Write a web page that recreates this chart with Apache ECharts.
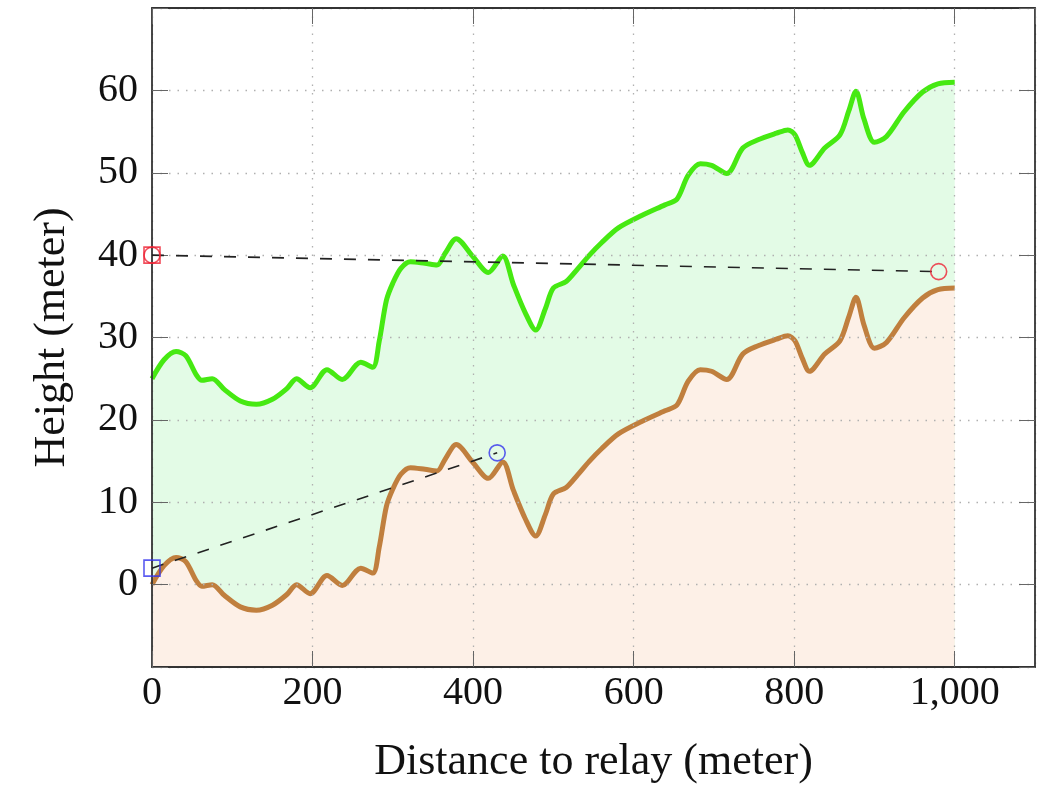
<!DOCTYPE html>
<html><head><meta charset="utf-8">
<script src="https://cdn.jsdelivr.net/npm/echarts@6/dist/echarts.min.js"></script>
<style>html,body{margin:0;padding:0;background:#fff}#c{width:1045px;height:785px}</style>
</head><body><div id="c"></div>
<script>
const distances = [0,15,30,42,55,62,75,90,110,130,150,168,180,197,218,237,260,275,283,292,300,310,322,340,355,365,379,400,419,437,450,465,478,490,500,516,530,545,560,581,610,639,654,668,683,697,716,736,755,778,792,801,810,819,838,857,868,877,887,900,915,937,960,979,1000];
const terrain = [0,2.3,3.3,2.8,0.5,-0.2,0,-1.3,-2.7,-3.1,-2.5,-1.2,0,-1.1,1.1,-0.1,2.0,1.4,4.5,9.5,11.6,13.4,14.2,14.0,13.8,15.2,17,14.8,12.9,14.9,11.5,8,5.9,8.5,11.0,11.8,13.3,15.0,16.5,18.3,19.8,21.1,21.8,24.7,26.1,25.9,24.9,28.0,29.0,29.8,30.2,29.6,27.5,25.9,28.0,29.6,32.5,34.9,31.5,28.7,29.4,32.4,34.8,35.8,36.0];
const clearance = [25,27.3,28.3,27.8,25.5,24.8,25,23.7,22.3,21.9,22.5,23.8,25,23.9,26.1,24.9,27,26.4,29.5,34.5,36.6,38.4,39.2,39,38.8,40.2,42,39.8,37.9,39.9,36.5,33,30.9,33.5,36,36.8,38.3,40,41.5,43.3,44.8,46.1,46.8,49.7,51.1,50.9,49.9,53,54,54.8,55.2,54.6,52.5,50.9,53,54.6,57.5,59.9,56.5,53.7,54.4,57.4,59.8,60.8,61];
const redLinkX = [0, 980];
const redLinkY = [40, 38];
const blueLinkX = [0, 430];
const blueLinkY = [2, 16];
const xTicks = [0,200,400,600,800,1000];
const yTicks = [0,10,20,30,40,50,60];

const pair = (xs, ys) => xs.map((x,i)=>[x, ys[i]]);
const FONT = 'Liberation Serif';
const chart = echarts.init(document.getElementById('c'), null, {renderer:'canvas'});
const gridLine = {show:true, lineStyle:{color:'#b0b0b0', width:1.3, type:[1.5,7]}};
const baseTick = {show:true, inside:true, length:16, lineStyle:{color:'#666', width:1}};
const frame = {show:true, onZero:false, lineStyle:{color:'#333', width:1.8}};
chart.setOption({
  animation:false,
  grid:{left:152, right:10, top:8, bottom:118, show:false, containLabel:false, outerBoundsMode:'none'},
  xAxis:[{
    type:'value', min:0, max:1100, interval:200, z:10,
    axisLine:frame,
    axisTick:baseTick,
    splitLine:gridLine,
    axisLabel:{fontFamily:FONT, fontSize:40, color:'#111', margin:6, showMaxLabel:false,
      formatter:v => xTicks.includes(v) ? v.toLocaleString('en-US') : ''},
    name:'Distance to relay (meter)', nameLocation:'middle', nameGap:73,
    nameTextStyle:{fontFamily:FONT, fontSize:44, color:'#111'}
  },{
    type:'value', min:0, max:1100, interval:200, position:'top', z:10,
    axisLine:frame,
    axisTick:baseTick, axisLabel:{show:false}, splitLine:{show:false}
  }],
  yAxis:[{
    type:'value', min:-10, max:70, interval:10, z:10,
    axisLine:frame,
    axisTick:baseTick,
    splitLine:gridLine,
    axisLabel:{fontFamily:FONT, fontSize:40, color:'#111', margin:14,
      formatter:v => yTicks.includes(v) ? String(v) : ''},
    name:'Height (meter)', nameLocation:'middle', nameGap:78, nameRotate:90,
    nameTextStyle:{fontFamily:FONT, fontSize:44, color:'#111'}
  },{
    type:'value', min:-10, max:70, interval:10, position:'right', z:10,
    axisLine:frame,
    axisTick:baseTick, axisLabel:{show:false}, splitLine:{show:false}
  }],
  series:[
    {type:'line', data:pair(distances, clearance), smooth:0.3, showSymbol:false,
     lineStyle:{color:'#46e912', width:5}, areaStyle:{color:'#e3fbe6', origin:'start', opacity:1}, z:2},
    {type:'line', data:pair(distances, terrain), smooth:0.3, showSymbol:false,
     lineStyle:{color:'#c07f3e', width:5}, areaStyle:{color:'#fdf0e7', origin:'start', opacity:1}, z:3},
    {type:'line', data:pair(redLinkX, redLinkY), showSymbol:false,
     lineStyle:{color:'#222', width:1.6, type:[12,12]}, z:11},
    {type:'line', data:pair(blueLinkX, blueLinkY), showSymbol:false,
     lineStyle:{color:'#222', width:1.6, type:[12,12]}, z:11},
    {type:'scatter', data:[[redLinkX[0], redLinkY[0]]], symbol:'rect', symbolSize:16,
     itemStyle:{color:'rgba(0,0,0,0)', borderColor:'#ee2233', borderWidth:1.6}, clip:false, z:12},
    {type:'scatter', data:pair(redLinkX, redLinkY), symbol:'circle', symbolSize:16,
     itemStyle:{color:'rgba(0,0,0,0)', borderColor:'#ee2233', borderWidth:1.6}, clip:false, z:12},
    {type:'scatter', data:[[blueLinkX[0], blueLinkY[0]]], symbol:'rect', symbolSize:16,
     itemStyle:{color:'rgba(0,0,0,0)', borderColor:'#3333ee', borderWidth:1.6}, clip:false, z:12},
    {type:'scatter', data:[[blueLinkX[1], blueLinkY[1]]], symbol:'circle', symbolSize:16,
     itemStyle:{color:'rgba(0,0,0,0)', borderColor:'#3333ee', borderWidth:1.6}, clip:false, z:12}
  ]
});
</script></body></html>
